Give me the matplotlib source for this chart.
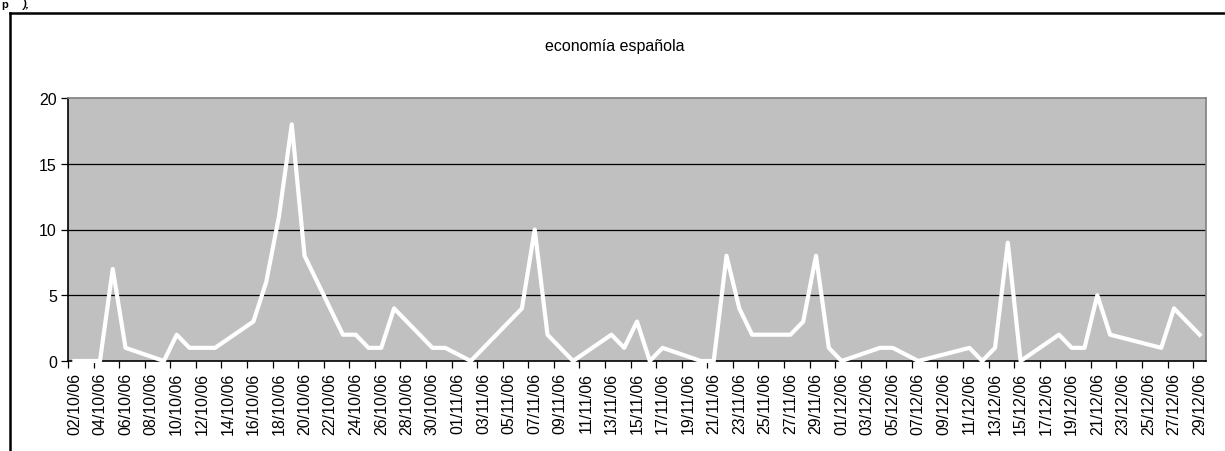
import matplotlib
matplotlib.use('Agg')
import matplotlib.pyplot as plt
import matplotlib.dates as mdates
from matplotlib.lines import Line2D
import pandas as pd

plt.rcParams['font.family'] = ['Liberation Sans', 'DejaVu Sans']

# points (days with no point in between are joined straight)
dates = ['02/10/06', '04/10/06', '05/10/06', '06/10/06', '09/10/06', '10/10/06',
         '11/10/06', '13/10/06', '16/10/06', '17/10/06', '18/10/06', '19/10/06',
         '20/10/06', '23/10/06', '24/10/06', '25/10/06', '26/10/06', '27/10/06',
         '30/10/06', '31/10/06', '02/11/06', '06/11/06', '07/11/06', '08/11/06',
         '10/11/06', '13/11/06', '14/11/06', '15/11/06', '16/11/06', '17/11/06',
         '20/11/06', '21/11/06', '22/11/06', '23/11/06', '24/11/06', '27/11/06',
         '28/11/06', '29/11/06', '30/11/06', '01/12/06', '04/12/06', '05/12/06',
         '07/12/06', '11/12/06', '12/12/06', '13/12/06', '14/12/06', '15/12/06',
         '18/12/06', '19/12/06', '20/12/06', '21/12/06', '22/12/06', '26/12/06',
         '27/12/06', '29/12/06']
values = [0, 0, 7, 1, 0, 2,
          1, 1, 3, 6, 11, 18,
          8, 2, 2, 1, 1, 4,
          1, 1, 0, 4, 10, 2,
          0, 2, 1, 3, 0, 1,
          0, 0, 8, 4, 2, 2,
          3, 8, 1, 0, 1, 1,
          0, 1, 0, 1, 9, 0,
          2, 1, 1, 5, 2, 1,
          4, 2]
title = 'economía española'
y_ticks = [0, 5, 10, 15, 20]

x = pd.to_datetime(dates, format='%d/%m/%y')
first, last = pd.Timestamp('2006-10-02'), pd.Timestamp('2006-12-29')
label_days = pd.date_range(first, last, freq='2D')
half = pd.Timedelta(hours=12)

fig = plt.figure(figsize=(12.25, 4.52), dpi=100)
ax = fig.add_axes([68 / 1225, 1 - 362 / 452, (1206 - 68) / 1225, (362 - 99) / 452])
ax.set_facecolor('#C0C0C0')

ax.plot(x, values, color='white', lw=3, solid_joinstyle='round', zorder=3,
        clip_on=False)

ax.set_xlim(first - half, last + half)
ax.set_ylim(0, 20)
ax.set_yticks(y_ticks)
for v in y_ticks[1:-1]:
    ax.axhline(v, color='black', lw=0.9, zorder=2)

ax.set_xticks(label_days)
ax.xaxis.set_major_formatter(mdates.DateFormatter('%d/%m/%y'))
ax.set_xticks(label_days - half, minor=True)
ax.tick_params(axis='x', which='major', length=0, pad=8, labelrotation=90,
               labelsize=11.5)
ax.tick_params(axis='x', which='minor', length=5, width=0.9, color='black')
ax.tick_params(axis='y', length=5, width=0.9, labelsize=11.5, pad=3)

ax.spines['left'].set_color('black')
ax.spines['bottom'].set_color('black')
ax.spines['top'].set_color('#808080')
ax.spines['right'].set_color('#808080')
for s in ax.spines.values():
    s.set_linewidth(1.2)

fig.text(615 / 1225, 1 - 47 / 452, title, ha='center', va='center', fontsize=11.5)

# scrap of the document text above the chart
fig.text(1 / 1225, 1.0, 'p', ha='left', va='top', fontsize=8,
         fontweight='bold')
fig.text(23 / 1225, 1.0, '),', ha='left', va='top', fontsize=8,
         fontweight='bold', style='italic')

# outer chart frame (left and top edges visible in the screenshot)
fig.add_artist(Line2D([10 / 1225, 10 / 1225], [0, 1 - 14 / 452], color='black',
                      lw=1.8, transform=fig.transFigure))
fig.add_artist(Line2D([10 / 1225, 1], [1 - 14 / 452, 1 - 14 / 452], color='black',
                      lw=1.8, transform=fig.transFigure))

fig.savefig('out.png', dpi=100)
